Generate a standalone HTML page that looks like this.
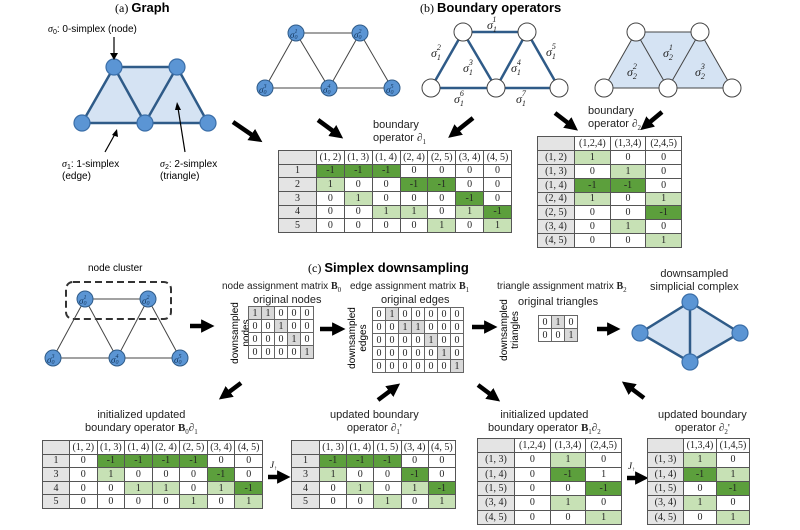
<!DOCTYPE html>
<html><head><meta charset="utf-8">
<style>
html,body{margin:0;padding:0;background:#fff;}
#c{position:relative;width:800px;height:530px;overflow:hidden;font-family:"Liberation Sans",sans-serif;color:#222;}
table.m{position:absolute;border-collapse:collapse;table-layout:fixed;font-family:"Liberation Serif",serif;font-size:10px;border:1.5px solid #444;}
table.m td{border:1px solid #555;text-align:center;padding:0;line-height:11px;overflow:hidden;white-space:nowrap;}
table.m td:first-child{background:#e4e4e4;}
td.d{background:#5c9f3c !important;}
td.l{background:#c7e1b5 !important;}
table.a{position:absolute;border-collapse:collapse;table-layout:fixed;font-family:"Liberation Serif",serif;font-size:10px;border:1.5px solid #444;}
table.a td{border:1px solid #666;text-align:center;padding:0;width:12px;height:12px;line-height:11px;}
table.a td.g{background:#d9d9d9;}
.t{position:absolute;font-size:11px;white-space:nowrap;text-align:center;line-height:13px;}
.s{font-size:10px;}
.sf{font-family:"Liberation Serif",serif;}
</style></head><body><div id="c">
<svg width="800" height="530" style="position:absolute;left:0;top:0" xmlns="http://www.w3.org/2000/svg">
<defs>
<marker id="ah" markerWidth="3" markerHeight="3" refX="0.2" refY="1.5" orient="auto" markerUnits="strokeWidth"><path d="M0,0 L3,1.5 L0,3 z" fill="#000"/></marker>
</defs>
<g font-family="Liberation Serif,serif">
<text x="115" y="12" font-size="12">(a) <tspan font-family="Liberation Sans,sans-serif" font-weight="bold" font-size="13">Graph</tspan></text>
<text x="420" y="12" font-size="12">(b) <tspan font-family="Liberation Sans,sans-serif" font-weight="bold" font-size="13">Boundary operators</tspan></text>
<text x="308" y="272" font-size="12">(c) <tspan font-family="Liberation Sans,sans-serif" font-weight="bold" font-size="13">Simplex downsampling</tspan></text>
</g>
<polygon points="114,67 177,67 208,123 82,123" fill="#d5e3f3"/>
<g stroke="#2f5b88" stroke-width="2.5" fill="none">
<path d="M114,67 L177,67 L208,123 L82,123 Z M114,67 L145,123 L177,67"/>
</g>
<g fill="#5b95d4" stroke="#3a6ea8" stroke-width="1.2">
<circle cx="114" cy="67" r="8"/><circle cx="177" cy="67" r="8"/><circle cx="82" cy="123" r="8"/><circle cx="145" cy="123" r="8"/><circle cx="208" cy="123" r="8"/>
</g>
<text x="48" y="32" font-size="10"><tspan font-family="Liberation Serif,serif" font-style="italic">σ</tspan><tspan font-size="7" dy="2">0</tspan><tspan dy="-2">: 0-simplex (node)</tspan></text>
<line x1="114" y1="37" x2="114" y2="55" stroke="#000" stroke-width="1.2"/>
<path d="M110,53 L114,60 L118,53 Z" fill="#000"/>
<line x1="105" y1="152" x2="115" y2="134" stroke="#000" stroke-width="1.2"/>
<path d="M112,135 L117,129 L118,137 Z" fill="#000"/>
<line x1="185" y1="152" x2="178" y2="108" stroke="#000" stroke-width="1.2"/>
<path d="M175,110 L177,102 L181,110 Z" fill="#000"/>
<text x="62" y="167" font-size="10"><tspan font-family="Liberation Serif,serif" font-style="italic">σ</tspan><tspan font-size="7" dy="2">1</tspan><tspan dy="-2">: 1-simplex</tspan></text>
<text x="62" y="179" font-size="10">(edge)</text>
<text x="160" y="167" font-size="10"><tspan font-family="Liberation Serif,serif" font-style="italic">σ</tspan><tspan font-size="7" dy="2">2</tspan><tspan dy="-2">: 2-simplex</tspan></text>
<text x="160" y="179" font-size="10">(triangle)</text>

<g stroke="#444" stroke-width="1"><path d="M296,33 L360,33 L392,88 L265,88 Z M296,33 L329,88 L360,33" fill="none"/></g>
<g fill="#5b95d4" stroke="#2f5b88" stroke-width="1">
<circle cx="296" cy="33" r="8"/><circle cx="360" cy="33" r="8"/><circle cx="265" cy="88" r="8"/><circle cx="329" cy="88" r="8"/><circle cx="392" cy="88" r="8"/>
</g>
<g font-family="Liberation Serif,serif" font-style="italic" font-size="9" fill="#143860">
<text x="290" y="38">σ<tspan font-size="6" dy="1">0</tspan><tspan font-size="6" dy="-6" dx="-3">1</tspan></text>
<text x="354" y="38">σ<tspan font-size="6" dy="1">0</tspan><tspan font-size="6" dy="-6" dx="-3">2</tspan></text>
<text x="259" y="93">σ<tspan font-size="6" dy="1">0</tspan><tspan font-size="6" dy="-6" dx="-3">3</tspan></text>
<text x="323" y="93">σ<tspan font-size="6" dy="1">0</tspan><tspan font-size="6" dy="-6" dx="-3">4</tspan></text>
<text x="386" y="93">σ<tspan font-size="6" dy="1">0</tspan><tspan font-size="6" dy="-6" dx="-3">5</tspan></text>
</g>

<g stroke="#2f5b88" stroke-width="2.5" fill="none"><path d="M463,32 L527,32 L559,88 L431,88 Z M463,32 L496,88 L527,32"/></g>
<g fill="#fff" stroke="#444" stroke-width="1">
<circle cx="463" cy="32" r="9"/><circle cx="527" cy="32" r="9"/><circle cx="431" cy="88" r="9"/><circle cx="496" cy="88" r="9"/><circle cx="559" cy="88" r="9"/>
</g>
<g font-family="Liberation Serif,serif" font-style="italic" font-size="12" fill="#222">
<text x="487" y="29">σ<tspan font-size="8" dy="3">1</tspan><tspan font-size="8" dy="-10" dx="-4">1</tspan></text>
<text x="431" y="57">σ<tspan font-size="8" dy="3">1</tspan><tspan font-size="8" dy="-10" dx="-4">2</tspan></text>
<text x="463" y="72">σ<tspan font-size="8" dy="3">1</tspan><tspan font-size="8" dy="-10" dx="-4">3</tspan></text>
<text x="511" y="72">σ<tspan font-size="8" dy="3">1</tspan><tspan font-size="8" dy="-10" dx="-4">4</tspan></text>
<text x="546" y="56">σ<tspan font-size="8" dy="3">1</tspan><tspan font-size="8" dy="-10" dx="-4">5</tspan></text>
<text x="454" y="103">σ<tspan font-size="8" dy="3">1</tspan><tspan font-size="8" dy="-10" dx="-4">6</tspan></text>
<text x="516" y="103">σ<tspan font-size="8" dy="3">1</tspan><tspan font-size="8" dy="-10" dx="-4">7</tspan></text>
</g>

<polygon points="636,32 700,32 732,88 604,88" fill="#d5e3f3"/>
<g stroke="#444" stroke-width="1" fill="none"><path d="M636,32 L700,32 L732,88 L604,88 Z M636,32 L668,88 L700,32"/></g>
<g fill="#fff" stroke="#444" stroke-width="1">
<circle cx="636" cy="32" r="9"/><circle cx="700" cy="32" r="9"/><circle cx="604" cy="88" r="9"/><circle cx="668" cy="88" r="9"/><circle cx="732" cy="88" r="9"/>
</g>
<g font-family="Liberation Serif,serif" font-style="italic" font-size="12" fill="#222">
<text x="663" y="57">σ<tspan font-size="8" dy="3">2</tspan><tspan font-size="8" dy="-10" dx="-4">1</tspan></text>
<text x="627" y="76">σ<tspan font-size="8" dy="3">2</tspan><tspan font-size="8" dy="-10" dx="-4">2</tspan></text>
<text x="695" y="76">σ<tspan font-size="8" dy="3">2</tspan><tspan font-size="8" dy="-10" dx="-4">3</tspan></text>
</g>

<rect x="66" y="282" width="105" height="37" rx="7" fill="none" stroke="#333" stroke-width="2" stroke-dasharray="7,4"/>
<g stroke="#444" stroke-width="1"><path d="M85,299 L148,299 L180,358 L53,358 Z M85,299 L117,358 L148,299" fill="none"/></g>
<g fill="#5b95d4" stroke="#2f5b88" stroke-width="1">
<circle cx="85" cy="299" r="8"/><circle cx="148" cy="299" r="8"/><circle cx="53" cy="358" r="8"/><circle cx="117" cy="358" r="8"/><circle cx="180" cy="358" r="8"/>
</g>
<g font-family="Liberation Serif,serif" font-style="italic" font-size="9" fill="#143860">
<text x="79" y="304">σ<tspan font-size="6" dy="1">0</tspan><tspan font-size="6" dy="-6" dx="-3">1</tspan></text>
<text x="142" y="304">σ<tspan font-size="6" dy="1">0</tspan><tspan font-size="6" dy="-6" dx="-3">2</tspan></text>
<text x="47" y="363">σ<tspan font-size="6" dy="1">0</tspan><tspan font-size="6" dy="-6" dx="-3">3</tspan></text>
<text x="111" y="363">σ<tspan font-size="6" dy="1">0</tspan><tspan font-size="6" dy="-6" dx="-3">4</tspan></text>
<text x="174" y="363">σ<tspan font-size="6" dy="1">0</tspan><tspan font-size="6" dy="-6" dx="-3">5</tspan></text>
</g>
<text x="88" y="271" font-size="10">node cluster</text>

<polygon points="690,302 740,333 690,362 640,333" fill="#d5e3f3"/>
<g stroke="#2f5b88" stroke-width="2.5" fill="none"><path d="M690,302 L740,333 L690,362 L640,333 Z M690,302 L690,362"/></g>
<g fill="#5b95d4" stroke="#3a6ea8" stroke-width="1.2">
<circle cx="690" cy="302" r="8"/><circle cx="740" cy="333" r="8"/><circle cx="690" cy="362" r="8"/><circle cx="640" cy="333" r="8"/>
</g>

<g stroke="#000" stroke-width="4.5" marker-end="url(#ah)">
<line x1="233" y1="122" x2="252" y2="135"/>
<line x1="318" y1="120" x2="333" y2="131"/>
<line x1="473" y1="118" x2="458" y2="130"/>
<line x1="555" y1="113" x2="568" y2="123"/>
<line x1="662" y1="112" x2="650" y2="122"/>
<line x1="190" y1="326" x2="202" y2="326"/>
<line x1="320" y1="329" x2="333" y2="329"/>
<line x1="472" y1="327" x2="485" y2="327"/>
<line x1="597" y1="329" x2="608" y2="329"/>
<line x1="241" y1="383" x2="229" y2="392"/>
<line x1="378" y1="400" x2="390" y2="391"/>
<line x1="478" y1="385" x2="490" y2="394"/>
<line x1="644" y1="398" x2="632" y2="389"/>
<line x1="268" y1="477" x2="278" y2="477"/>
<line x1="627" y1="478" x2="636" y2="478"/>
</g>
<g font-family="Liberation Serif,serif" font-style="italic" font-size="9">
<text x="270" y="468">J<tspan font-size="6" dy="2">↑</tspan></text>
<text x="628" y="469">J<tspan font-size="6" dy="2">↑</tspan></text>
</g>

<g font-size="10" text-anchor="middle">
<text transform="translate(238,333) rotate(-90)">downsampled</text>
<text transform="translate(249,333) rotate(-90)">nodes</text>
<text transform="translate(355,338) rotate(-90)">downsampled</text>
<text transform="translate(366,338) rotate(-90)">edges</text>
<text transform="translate(507,330) rotate(-90)">downsampled</text>
<text transform="translate(518,330) rotate(-90)">triangles</text>
</g>
</svg>

<div class="t" style="left:373px;top:119px;text-align:left">boundary<br>operator <span class="sf"><b><i>∂</i></b><sub style="font-size:7px">1</sub></span></div>
<div class="t" style="left:588px;top:105px;text-align:left">boundary<br>operator <span class="sf"><b><i>∂</i></b><sub style="font-size:7px">2</sub></span></div>
<div class="t s" style="left:222px;top:280px">node assignment matrix <span class="sf"><b>B</b><sub style="font-size:7px">0</sub></span></div>
<div class="t s" style="left:350px;top:280px">edge assignment matrix <span class="sf"><b>B</b><sub style="font-size:7px">1</sub></span></div>
<div class="t s" style="left:497px;top:280px">triangle assignment matrix <span class="sf"><b>B</b><sub style="font-size:7px">2</sub></span></div>
<div class="t" style="left:253px;top:294px">original nodes</div>
<div class="t" style="left:381px;top:294px">original edges</div>
<div class="t" style="left:518px;top:296px">original triangles</div>
<div class="t" style="left:650px;top:268px">downsampled<br>simplicial complex</div>
<div class="t" style="left:85px;top:409px">initialized updated<br>boundary operator <span class="sf"><b>B</b><sub style="font-size:7px">0</sub><b><i>∂</i></b><sub style="font-size:7px">1</sub></span></div>
<div class="t" style="left:330px;top:409px">updated boundary<br>operator <span class="sf"><b><i>∂</i></b><sub style="font-size:7px">1</sub>'</span></div>
<div class="t" style="left:488px;top:409px">initialized updated<br>boundary operator <span class="sf"><b>B</b><sub style="font-size:7px">1</sub><b><i>∂</i></b><sub style="font-size:7px">2</sub></span></div>
<div class="t" style="left:658px;top:409px">updated boundary<br>operator <span class="sf"><b><i>∂</i></b><sub style="font-size:7px">2</sub>'</span></div>

<table class="m" style="left:278px;top:150px;width:234px;height:83px">
<colgroup><col style="width:38px"><col><col><col><col><col><col><col></colgroup>
<tr><td></td><td>(1, 2)</td><td>(1, 3)</td><td>(1, 4)</td><td>(2, 4)</td><td>(2, 5)</td><td>(3, 4)</td><td>(4, 5)</td></tr>
<tr><td>1</td><td class="d">-1</td><td class="d">-1</td><td class="d">-1</td><td>0</td><td>0</td><td>0</td><td>0</td></tr>
<tr><td>2</td><td class="l">1</td><td>0</td><td>0</td><td class="d">-1</td><td class="d">-1</td><td>0</td><td>0</td></tr>
<tr><td>3</td><td>0</td><td class="l">1</td><td>0</td><td>0</td><td>0</td><td class="d">-1</td><td>0</td></tr>
<tr><td>4</td><td>0</td><td>0</td><td class="l">1</td><td class="l">1</td><td>0</td><td class="l">1</td><td class="d">-1</td></tr>
<tr><td>5</td><td>0</td><td>0</td><td>0</td><td>0</td><td class="l">1</td><td>0</td><td class="l">1</td></tr>
</table>

<table class="m" style="left:537px;top:136px;width:145px;height:112px">
<colgroup><col style="width:37px"><col><col><col></colgroup>
<tr><td></td><td>(1,2,4)</td><td>(1,3,4)</td><td>(2,4,5)</td></tr>
<tr><td>(1, 2)</td><td class="l">1</td><td>0</td><td>0</td></tr>
<tr><td>(1, 3)</td><td>0</td><td class="l">1</td><td>0</td></tr>
<tr><td>(1, 4)</td><td class="d">-1</td><td class="d">-1</td><td>0</td></tr>
<tr><td>(2, 4)</td><td class="l">1</td><td>0</td><td class="l">1</td></tr>
<tr><td>(2, 5)</td><td>0</td><td>0</td><td class="d">-1</td></tr>
<tr><td>(3, 4)</td><td>0</td><td class="l">1</td><td>0</td></tr>
<tr><td>(4, 5)</td><td>0</td><td>0</td><td class="l">1</td></tr>
</table>

<table class="a" style="left:248px;top:306px">
<tr><td class="g">1</td><td class="g">1</td><td>0</td><td>0</td><td>0</td></tr>
<tr><td>0</td><td>0</td><td class="g">1</td><td>0</td><td>0</td></tr>
<tr><td>0</td><td>0</td><td>0</td><td class="g">1</td><td>0</td></tr>
<tr><td>0</td><td>0</td><td>0</td><td>0</td><td class="g">1</td></tr>
</table>
<table class="a" style="left:372px;top:307px">
<tr><td>0</td><td class="g">1</td><td>0</td><td>0</td><td>0</td><td>0</td><td>0</td></tr>
<tr><td>0</td><td>0</td><td class="g">1</td><td class="g">1</td><td>0</td><td>0</td><td>0</td></tr>
<tr><td>0</td><td>0</td><td>0</td><td>0</td><td class="g">1</td><td>0</td><td>0</td></tr>
<tr><td>0</td><td>0</td><td>0</td><td>0</td><td>0</td><td class="g">1</td><td>0</td></tr>
<tr><td>0</td><td>0</td><td>0</td><td>0</td><td>0</td><td>0</td><td class="g">1</td></tr>
</table>
<table class="a" style="left:538px;top:315px">
<tr><td>0</td><td class="g">1</td><td>0</td></tr>
<tr><td>0</td><td>0</td><td class="g">1</td></tr>
</table>

<table class="m" style="left:42px;top:440px;width:221px;height:69px">
<colgroup><col style="width:27px"><col><col><col><col><col><col><col></colgroup>
<tr><td></td><td>(1, 2)</td><td>(1, 3)</td><td>(1, 4)</td><td>(2, 4)</td><td>(2, 5)</td><td>(3, 4)</td><td>(4, 5)</td></tr>
<tr><td>1</td><td>0</td><td class="d">-1</td><td class="d">-1</td><td class="d">-1</td><td class="d">-1</td><td>0</td><td>0</td></tr>
<tr><td>3</td><td>0</td><td class="l">1</td><td>0</td><td>0</td><td>0</td><td class="d">-1</td><td>0</td></tr>
<tr><td>4</td><td>0</td><td>0</td><td class="l">1</td><td class="l">1</td><td>0</td><td class="l">1</td><td class="d">-1</td></tr>
<tr><td>5</td><td>0</td><td>0</td><td>0</td><td>0</td><td class="l">1</td><td>0</td><td class="l">1</td></tr>
</table>

<table class="m" style="left:291px;top:440px;width:165px;height:69px">
<colgroup><col style="width:28px"><col><col><col><col><col></colgroup>
<tr><td></td><td>(1, 3)</td><td>(1, 4)</td><td>(1, 5)</td><td>(3, 4)</td><td>(4, 5)</td></tr>
<tr><td>1</td><td class="d">-1</td><td class="d">-1</td><td class="d">-1</td><td>0</td><td>0</td></tr>
<tr><td>3</td><td class="l">1</td><td>0</td><td>0</td><td class="d">-1</td><td>0</td></tr>
<tr><td>4</td><td>0</td><td class="l">1</td><td>0</td><td class="l">1</td><td class="d">-1</td></tr>
<tr><td>5</td><td>0</td><td>0</td><td class="l">1</td><td>0</td><td class="l">1</td></tr>
</table>

<table class="m" style="left:477px;top:438px;width:145px;height:87px">
<colgroup><col style="width:37px"><col><col><col></colgroup>
<tr><td></td><td>(1,2,4)</td><td>(1,3,4)</td><td>(2,4,5)</td></tr>
<tr><td>(1, 3)</td><td>0</td><td class="l">1</td><td>0</td></tr>
<tr><td>(1, 4)</td><td>0</td><td class="d">-1</td><td>1</td></tr>
<tr><td>(1, 5)</td><td>0</td><td>0</td><td class="d">-1</td></tr>
<tr><td>(3, 4)</td><td>0</td><td class="l">1</td><td>0</td></tr>
<tr><td>(4, 5)</td><td>0</td><td>0</td><td class="l">1</td></tr>
</table>

<table class="m" style="left:647px;top:438px;width:103px;height:87px">
<colgroup><col style="width:36px"><col><col></colgroup>
<tr><td></td><td>(1,3,4)</td><td>(1,4,5)</td></tr>
<tr><td>(1, 3)</td><td class="l">1</td><td>0</td></tr>
<tr><td>(1, 4)</td><td class="d">-1</td><td class="l">1</td></tr>
<tr><td>(1, 5)</td><td>0</td><td class="d">-1</td></tr>
<tr><td>(3, 4)</td><td class="l">1</td><td>0</td></tr>
<tr><td>(4, 5)</td><td>0</td><td class="l">1</td></tr>
</table>
</div></body></html>
